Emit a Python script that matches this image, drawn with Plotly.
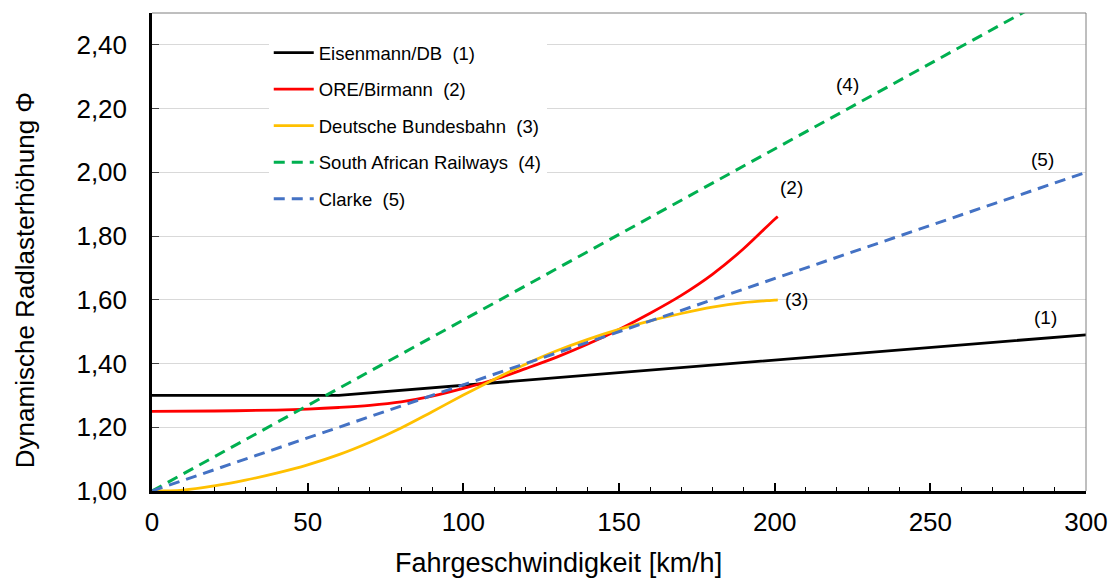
import plotly.graph_objects as go

# ---- data ----
v_eisenmann = [0, 60, 300]
phi_eisenmann = [1.30, 1.30, 1.49]

v_ore = [0, 20, 40, 50, 60, 70, 80, 90, 100, 110, 120, 130, 140, 150, 160, 170, 180, 190, 200, 201]
phi_ore = [1.250, 1.251, 1.254, 1.257, 1.262, 1.269, 1.280, 1.298, 1.322, 1.350, 1.384, 1.420,
           1.461, 1.507, 1.558, 1.614, 1.680, 1.760, 1.853, 1.861]

v_db = [0, 10, 20, 30, 40, 50, 60, 70, 80, 90, 100, 110, 120, 130, 140, 150, 160, 170, 180, 190, 200, 201]
phi_db = [1.000, 1.003, 1.016, 1.034, 1.056, 1.082, 1.114, 1.153, 1.198, 1.249, 1.301, 1.351,
          1.398, 1.440, 1.476, 1.507, 1.534, 1.557, 1.577, 1.591, 1.599, 1.600]

v_sar = [0, 300]
phi_sar = [1.00, 2.61]

v_clarke = [0, 300]
phi_clarke = [1.00, 2.00]

names = ["Eisenmann/DB\u00a0\u00a0(1)", "ORE/Birmann\u00a0\u00a0(2)", "Deutsche Bundesbahn\u00a0\u00a0(3)",
         "South African Railways\u00a0\u00a0(4)", "Clarke\u00a0\u00a0(5)"]

labels = ["(1)", "(2)", "(3)", "(4)", "(5)"]
label_x = [287.0, 205.5, 207.0, 223.5, 286.0]
label_y = [1.545, 1.952, 1.602, 2.277, 2.040]

x_ticks = [0, 50, 100, 150, 200, 250, 300]
y_ticks = [1.0, 1.2, 1.4, 1.6, 1.8, 2.0, 2.2, 2.4]

FONT = "Liberation Sans, Arial, sans-serif"

fig = go.Figure()
series = [
    (v_eisenmann, phi_eisenmann, "#000000", "solid", "linear", 2.8),
    (v_ore, phi_ore, "#ff0000", "solid", "spline", 2.8),
    (v_db, phi_db, "#ffc000", "solid", "spline", 2.8),
    (v_sar, phi_sar, "#00b050", "11px,7px", "linear", 3.0),
    (v_clarke, phi_clarke, "#4472c4", "11px,7px", "linear", 3.0),
]
for i, (xs, ys, col, dash, shape, w) in enumerate(series):
    fig.add_trace(go.Scatter(
        x=xs, y=ys, mode="lines", name=names[i], legendgroup=str(i),
        line=dict(color=col, width=w, dash=dash, shape=shape, smoothing=1.0),
        cliponaxis=True,
    ))

for t, lx, ly in zip(labels, label_x, label_y):
    fig.add_annotation(x=lx, y=ly, xref="x", yref="y", text=t, showarrow=False,
                       font=dict(family=FONT, size=19, color="#000000"),
                       xanchor="center", yanchor="middle")

# axis titles
fig.add_annotation(x=0.4347, y=-0.150, xref="paper", yref="paper",
                   text="Fahrgeschwindigkeit [km/h]", showarrow=False,
                   font=dict(family=FONT, size=27, color="#000000"),
                   xanchor="center", yanchor="middle")
fig.add_annotation(x=-0.136, y=0.441, xref="paper", yref="paper",
                   text="Dynamische Radlasterhöhung Φ", showarrow=False, textangle=-90,
                   font=dict(family=FONT, size=26, color="#000000"),
                   xanchor="center", yanchor="middle")

# top and right frame lines
fig.add_shape(type="line", xref="paper", yref="paper", x0=0, x1=1, y0=1, y1=1,
              line=dict(color="#7f7f7f", width=1))
fig.add_shape(type="line", xref="paper", yref="paper", x0=1, x1=1, y0=0, y1=1,
              line=dict(color="#7f7f7f", width=1))

fig.update_layout(
    width=1114, height=578,
    margin=dict(l=152, r=28, t=13, b=87, pad=0, autoexpand=False),
    paper_bgcolor="white", plot_bgcolor="white",
    separators=",.",
    font=dict(family=FONT, color="#000000"),
    showlegend=True,
    legend=dict(
        x=0.125, y=0.956, xanchor="left", yanchor="top",
        bgcolor="white", borderwidth=0,
        font=dict(family=FONT, size=18.5, color="#000000"),
        tracegroupgap=9.5, itemwidth=40,
    ),
    xaxis=dict(
        range=[0, 300], tickvals=x_ticks, ticktext=[str(v) for v in x_ticks],
        showgrid=False, zeroline=False, automargin=False,
        showline=True, linecolor="#000000", linewidth=2.5,
        ticks="inside", ticklen=8, tickwidth=1.5, tickcolor="#000000",
        minor=dict(dtick=10, ticks="inside", ticklen=4, tickwidth=1.2, tickcolor="#000000", showgrid=False),
        tickfont=dict(family=FONT, size=26, color="#000000"),
        ticklabelstandoff=6,
    ),
    yaxis=dict(
        range=[1.0, 2.5], tickvals=y_ticks, tickformat=".2f",
        showgrid=True, gridcolor="#d9d9d9", gridwidth=1, zeroline=False, automargin=False,
        showline=True, linecolor="#000000", linewidth=2.5,
        ticks="inside", ticklen=7, tickwidth=1.2, tickcolor="#404040",
        tickfont=dict(family=FONT, size=26, color="#000000"),
        ticklabelstandoff=17,
    ),
)

fig.write_html("out.html", config={"displayModeBar": False},
               post_script="document.body.style.margin='0px';document.body.style.overflow='hidden';")
